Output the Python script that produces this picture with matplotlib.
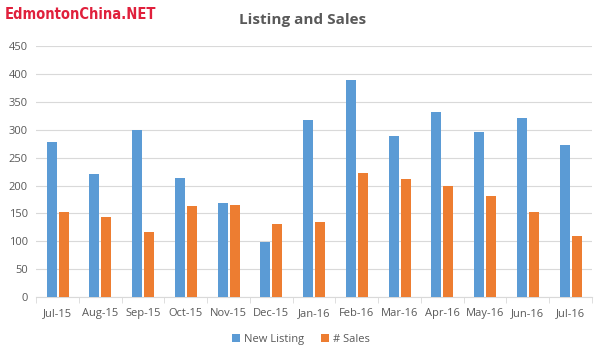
import numpy as np
import matplotlib.pyplot as plt

months = ['Jul-15', 'Aug-15', 'Sep-15', 'Oct-15', 'Nov-15', 'Dec-15', 'Jan-16',
          'Feb-16', 'Mar-16', 'Apr-16', 'May-16', 'Jun-16', 'Jul-16']
new_listing = [278, 221, 300, 214, 168, 99, 318, 390, 289, 332, 296, 321, 273]
sales = [153, 144, 117, 164, 166, 132, 135, 223, 212, 200, 182, 153, 110]

plt.rcParams['font.family'] = ['Open Sans', 'DejaVu Sans']

fig = plt.figure(figsize=(6.02, 3.55), dpi=100)
ax = fig.add_axes([0.06, 0.163, 0.923, 0.707])

x = np.arange(len(months))
w = 0.235
ax.bar(x - 0.135, new_listing, w, color='#5B9BD5', label='New Listing', zorder=3)
ax.bar(x + 0.145, sales, w, color='#ED7D31', label='# Sales', zorder=3)

ax.set_xlim(-0.5, len(months) - 0.5)
ax.set_ylim(0, 450)
ax.set_yticks(range(0, 451, 50))
ax.yaxis.grid(True, color='#D9D9D9', linewidth=0.8, zorder=0)
ax.set_xticks(x)
ax.set_xticklabels(months)
ax.set_xticks(np.arange(-0.5, len(months), 1), minor=True)
ax.tick_params(axis='x', which='major', length=0, pad=8, labelsize=8, colors='#595959')
ax.tick_params(axis='x', which='minor', length=4, color='#D9D9D9')
ax.tick_params(axis='y', length=0, pad=6, labelsize=8, colors='#595959')
for s in ['top', 'right', 'left']:
    ax.spines[s].set_visible(False)
ax.spines['bottom'].set_color('#D9D9D9')

fig.text(0.502, 0.943, 'Listing and Sales', ha='center', va='center',
         fontsize=11, fontweight='bold', color='#595959')
fig.text(0.008, 0.96, 'EdmontonChina.NET', ha='left', va='center',
         fontsize=10.5, fontweight='bold', fontstretch='condensed',
         family='DejaVu Sans', color='#E0203C')

fig.legend(loc='center', bbox_to_anchor=(0.5, 0.045), ncol=2, frameon=False,
           fontsize=8, handlelength=0.7, handleheight=0.7, handletextpad=0.4,
           columnspacing=1.5, labelcolor='#595959')

fig.savefig('out.png', dpi=100)
